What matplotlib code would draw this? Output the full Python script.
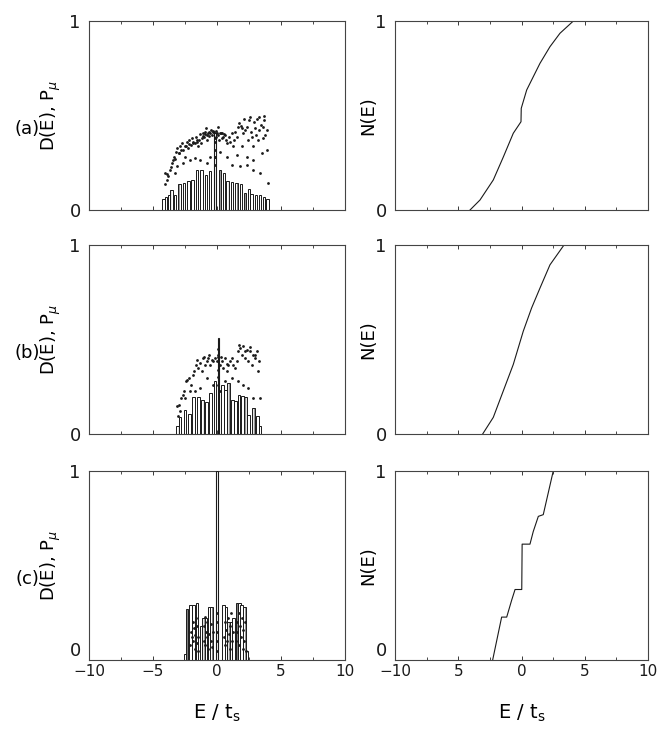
import matplotlib.pyplot as plt
import numpy as np

# ---- (a) ----
E_bar_a = [-4.19, -4.00, -3.72, -3.54, -3.28, -2.92, -2.59, -2.24, -1.90, -1.57, -1.21,
           -0.87, -0.53, 0.22, 0.55, 0.82, 1.18, 1.52, 1.88, 2.18, 2.50, 2.71, 3.05,
           3.36, 3.67, 3.93]
D_a = [0.060, 0.070, 0.077, 0.108, 0.082, 0.135, 0.143, 0.152, 0.160, 0.210, 0.210,
       0.187, 0.205, 0.213, 0.196, 0.152, 0.147, 0.143, 0.135, 0.090, 0.112, 0.086, 0.082,
       0.077, 0.070, 0.056]
E_spike_a = [-0.16]
D_spike_a = [0.41]

P_a_E = [-4.06, -3.93, -3.80, -3.67, -3.54, -3.46, -3.36, -3.20, -3.10, -2.94, -2.89, -2.76,
         -2.63, -2.50, -2.42, -2.32, -2.24, -2.16, -2.06, -1.98, -1.85, -1.72, -1.64, -1.54,
         -1.46, -1.38, -1.28, -1.20, -1.12, -1.02, -0.94, -0.86, -0.81, -0.76, -0.65, -0.55,
         -0.47, -0.39, -0.29, -0.21, -0.08, 0.03, 0.10, 0.18, 0.29, 0.39, 0.49, 0.60, 0.70,
         0.81, 0.91, 1.02, 1.15, 1.22, 1.33, 1.41, 1.54, 1.64, 1.74, 1.85, 1.93, 2.01, 2.11,
         2.19, 2.32, 2.45, 2.53, 2.63, 2.71, 2.79, 2.89, 2.97, 3.05, 3.15, 3.23, 3.31, 3.41,
         3.49, 3.57, 3.62, 3.67, 3.78, 3.88, 3.93, 4.01, 3.36, 2.84, 2.32, 1.80, 1.15, 0.76,
         -1.33, -1.72, -0.55, -0.81, -2.11, -2.63, -3.15, -3.28, 0.23, -0.16, 1.54, 2.32,
         1.93, 2.79, 3.70, 3.30, 2.60, -1.10, -0.90, -0.70, -0.60, -0.35, -0.10, 0.05, 0.20,
         0.40, 0.55, -1.30, -1.60, -1.90, -2.20, -2.50, -2.80, -3.00, -3.30, -3.60, -3.90,
         -4.10, -0.16, -0.16, -0.16, -0.16, -0.16]
P_a = [0.196, 0.161, 0.178, 0.213, 0.248, 0.266, 0.283, 0.309, 0.327, 0.301, 0.336, 0.353,
       0.318, 0.283, 0.336, 0.362, 0.327, 0.371, 0.344, 0.379, 0.357, 0.353, 0.388, 0.362,
       0.336, 0.371, 0.353, 0.379, 0.406, 0.388, 0.414, 0.432, 0.371, 0.397, 0.414, 0.406,
       0.423, 0.397, 0.414, 0.414, 0.388, 0.406, 0.397, 0.371, 0.406, 0.379, 0.388, 0.397,
       0.371, 0.353, 0.388, 0.362, 0.406, 0.336, 0.371, 0.414, 0.388, 0.440, 0.458, 0.444,
       0.432, 0.406, 0.484, 0.423, 0.440, 0.371, 0.476, 0.414, 0.388, 0.336, 0.467, 0.432,
       0.397, 0.484, 0.371, 0.423, 0.449, 0.301, 0.379, 0.440, 0.476, 0.397, 0.423, 0.318,
       0.143, 0.196, 0.213, 0.240, 0.231, 0.240, 0.283, 0.266, 0.274, 0.283, 0.248, 0.266,
       0.248, 0.231, 0.196, 0.309, 0.283, 0.292, 0.283, 0.336, 0.266, 0.500, 0.490, 0.490,
       0.390, 0.400, 0.410, 0.390, 0.420, 0.420, 0.440, 0.410, 0.410, 0.400, 0.400, 0.370,
       0.360, 0.350, 0.340, 0.320, 0.300, 0.270, 0.230, 0.190, 0.140, 0.240, 0.280, 0.320,
       0.360, 0.380]

N_a_E = [-4.07, -3.28, -2.23, -1.44, -0.65, -0.04, -0.02, 0.41, 0.93, 1.46, 2.25, 3.04, 4.10]
N_a = [0.0, 0.053, 0.159, 0.280, 0.406, 0.467, 0.538, 0.635, 0.705, 0.776, 0.864, 0.935, 1.0]

# ---- (b) ----
E_bar_b = [-3.10, -2.89, -2.50, -2.16, -1.85, -1.46, -1.12, -0.81, -0.50, -0.16, 0.41,
           0.67, 0.88, 1.20, 1.46, 1.72, 1.98, 2.24, 2.45, 2.84, 3.18, 3.36]
D_b = [0.040, 0.088, 0.128, 0.106, 0.194, 0.194, 0.180, 0.170, 0.216, 0.278, 0.260,
       0.234, 0.270, 0.180, 0.176, 0.208, 0.200, 0.194, 0.102, 0.137, 0.093, 0.040]
E_spike_b = [0.10]
D_spike_b = [0.507]

P_b_E = [-3.10, -2.94, -2.84, -2.68, -2.58, -2.42, -2.32, -2.16, -2.06, -1.90, -1.80, -1.64,
         -1.59, -1.46, -1.33, -1.20, -1.07, -0.94, -0.81, -0.68, -0.55, -0.42, -0.29, -0.16,
         -0.03, 0.10, 0.23, 0.36, 0.49, 0.62, 0.76, 0.89, 1.02, 1.15, 1.28, 1.41, 1.54, 1.67,
         1.80, 1.93, 2.06, 2.19, 2.32, 2.45, 2.58, 2.71, 2.84, 2.97, 3.10, 3.23, 3.31, 3.36,
         2.84, 2.45, 2.06, 1.67, 1.15, 0.62, 0.23, -0.29, -0.81, -1.33, -1.72, -2.11, -2.50,
         -2.89, -3.02, 0.10, 0.10, 0.10, 0.10, 0.10, -1.00, -0.60, 0.30, 0.80, 1.70, 2.20,
         2.60, 3.00]
P_b = [0.146, 0.155, 0.190, 0.208, 0.225, 0.278, 0.287, 0.296, 0.260, 0.313, 0.331, 0.366,
       0.393, 0.349, 0.375, 0.331, 0.401, 0.366, 0.384, 0.401, 0.366, 0.393, 0.384, 0.401,
       0.384, 0.410, 0.366, 0.384, 0.349, 0.401, 0.331, 0.366, 0.384, 0.401, 0.366, 0.349,
       0.384, 0.437, 0.454, 0.419, 0.463, 0.401, 0.445, 0.384, 0.437, 0.366, 0.419, 0.401,
       0.437, 0.331, 0.384, 0.190, 0.190, 0.243, 0.260, 0.278, 0.296, 0.278, 0.225, 0.260,
       0.296, 0.243, 0.225, 0.225, 0.190, 0.120, 0.093, 0.260, 0.300, 0.340, 0.420, 0.450,
       0.410, 0.420, 0.410, 0.370, 0.470, 0.440, 0.460, 0.420]

N_b_E = [-3.07, -2.23, -1.44, -0.65, 0.14, 0.80, 1.46, 2.25, 3.36]
N_b = [0.0, 0.088, 0.228, 0.368, 0.544, 0.667, 0.772, 0.895, 1.0]

# ---- (c) ----
E_bar_c = [-2.50, -2.34, -2.08, -1.82, -1.56, -1.25, -1.04, -0.86, -0.60, -0.42, 0.0,
           0.52, 0.71, 0.89, 1.10, 1.30, 1.56, 1.75, 1.93, 2.14, 2.35]
D_c = [0.03, 0.27, 0.29, 0.29, 0.30, 0.18, 0.22, 0.22, 0.28, 0.28, 0.28,
       0.29, 0.28, 0.20, 0.20, 0.22, 0.30, 0.30, 0.29, 0.28, 0.05]
E_spike_c = [0.0]
D_spike_c = [1.0]

P_c_E = [-2.10, -2.00, -1.95, -1.90, -1.85, -1.80, -1.75, -1.70, -1.65, -1.60, -1.55, -1.50,
         -1.45, -1.05, -1.00, -0.95, -0.90, -0.85, -0.80, -0.75, -0.70, -0.60, -0.50, -0.45,
         -0.40, -0.30, 0.0, 0.0, 0.0, 0.0, 0.0, 0.55, 0.60, 0.65, 0.70, 0.80, 0.85, 0.90,
         1.00, 1.05, 1.10, 1.15, 1.25, 1.50, 1.55, 1.60, 1.70, 1.75, 1.80, 1.90, 1.95, 2.00,
         2.05, 2.10, 2.20, 2.25]
P_c = [0.08, 0.15, 0.12, 0.20, 0.10, 0.17, 0.06, 0.13, 0.22, 0.09, 0.18, 0.12,
       0.05, 0.10, 0.18, 0.23, 0.08, 0.15, 0.20, 0.12, 0.06, 0.14, 0.10, 0.19,
       0.07, 0.15, 0.05, 0.10, 0.15, 0.20, 0.25, 0.12, 0.20, 0.08, 0.16, 0.10, 0.22, 0.14,
       0.06, 0.18, 0.25, 0.10, 0.15, 0.10, 0.20, 0.15, 0.25, 0.08, 0.18, 0.12, 0.22, 0.06,
       0.16, 0.10, 0.20, 0.05]

N_c_E = [-2.28, -1.57, -1.17, -0.78, -0.51, 0.02, 0.05, 0.67, 0.93, 1.33, 1.72, 2.51]
N_c = [0.0, 0.227, 0.227, 0.316, 0.373, 0.373, 0.613, 0.613, 0.680, 0.760, 0.769, 1.0]

rows = [
    ("(a)", E_bar_a, D_a, E_spike_a, D_spike_a, P_a_E, P_a, N_a_E, N_a),
    ("(b)", E_bar_b, D_b, E_spike_b, D_spike_b, P_b_E, P_b, N_b_E, N_b),
    ("(c)", E_bar_c, D_c, E_spike_c, D_spike_c, P_c_E, P_c, N_c_E, N_c),
]

plt.rcParams['hatch.linewidth'] = 0.4

fig = plt.figure(figsize=(6.57, 7.32), dpi=100)
W, H = 657.0, 732.0
row_tops = [21, 245, 471]
row_h = 189
ink = '#1a1a1a'


def style(ax, bottom_row, xlabels):
    ax.set_xlim(-10, 10)
    ax.set_ylim(0, 1)
    ax.set_yticks([0, 1])
    ax.set_yticklabels(['0', '1'], fontsize=13)
    ax.set_xticks([-10, -5, 0, 5, 10])
    ax.set_xticks(np.arange(-10, 10.1, 2.5), minor=True)
    ax.tick_params(direction='in', length=3, width=0.6, top=True, right=True,
                   colors=ink, pad=6)
    ax.tick_params(which='minor', direction='in', length=2, width=0.5,
                   top=True, right=True)
    if bottom_row:
        ax.set_xticklabels(xlabels, fontsize=11)
        ax.tick_params(axis='x', pad=3)
        ax.set_xlabel('E / t$_\\mathregular{s}$', fontsize=14, labelpad=17)
        # the zero sits on the axis line so it clears the -10 below it
        ax.get_yticklabels()[0].set_verticalalignment('bottom')
    else:
        ax.set_xticklabels([])
    for s in ax.spines.values():
        s.set_linewidth(0.8)
        s.set_color('#444444')


for i, (tag, eb, db, es, ds, pe, pv, ne, nv) in enumerate(rows):
    bottom = 1 - (row_tops[i] + row_h) / H
    axl = fig.add_axes([89 / W, bottom, 256 / W, row_h / H])
    axr = fig.add_axes([395 / W, bottom, 253 / W, row_h / H])

    axl.bar(eb, db, width=0.2, facecolor='white', edgecolor=ink, linewidth=0.7,
            hatch='||', zorder=2)
    axl.bar(es, ds, width=0.1, facecolor='white', edgecolor=ink, linewidth=0.8,
            zorder=3)
    axl.scatter(pe, pv, s=4, color=ink, linewidths=0, zorder=4)
    axl.set_ylabel('D(E), P$_{\\mu}$', fontsize=13)
    axl.yaxis.set_label_coords(-0.10, 0.5)
    axl.text(-0.24, 0.43, tag, transform=axl.transAxes, fontsize=13,
             ha='center', va='center')
    style(axl, i == 2, ['\u221210', '\u22125', '0', '5', '10'])

    axr.plot(ne, nv, color=ink, linewidth=0.8)
    axr.set_ylabel('N(E)', fontsize=13)
    axr.yaxis.set_label_coords(-0.07, 0.5)
    style(axr, i == 2, ['\u221210', '5', '0', '5', '10'])

fig.savefig('out.png', dpi=100)
